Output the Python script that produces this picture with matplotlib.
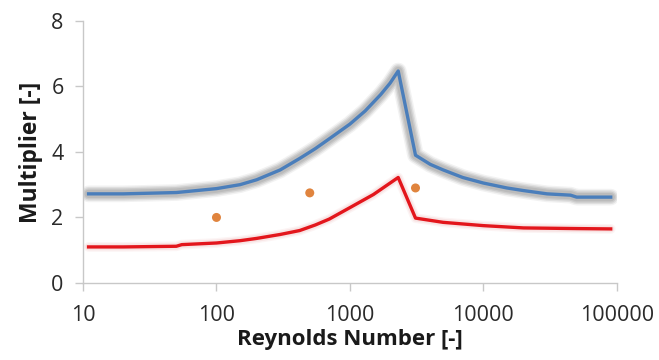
import matplotlib.pyplot as plt

# upper curve (blue), lower curve (red), measured points (orange)
re_upper = [11, 20, 50, 100, 150, 200, 300, 420, 550, 700, 1000, 1300, 1700, 2000, 2300, 3100, 4000, 5000, 7000, 10000, 15000, 20000, 30000, 45000, 50000, 90000]
mult_upper = [2.72, 2.72, 2.76, 2.88, 3.0, 3.15, 3.45, 3.8, 4.1, 4.4, 4.85, 5.25, 5.75, 6.1, 6.47, 3.9, 3.62, 3.45, 3.22, 3.05, 2.9, 2.82, 2.72, 2.68, 2.62, 2.62]

re_lower = [11, 20, 50, 55, 100, 150, 200, 300, 420, 550, 700, 1000, 1500, 2300, 3100, 5000, 10000, 20000, 50000, 90000]
mult_lower = [1.1, 1.1, 1.12, 1.17, 1.22, 1.29, 1.36, 1.48, 1.6, 1.77, 1.95, 2.3, 2.7, 3.22, 1.98, 1.85, 1.75, 1.68, 1.66, 1.65]

re_points = [100, 500, 3100]
mult_points = [2.0, 2.75, 2.9]

plt.rcParams['font.family'] = ['Open Sans', 'DejaVu Sans']
fig = plt.figure(figsize=(6.59, 3.6), dpi=100)
ax = fig.add_axes([0.126, 0.214, 0.81, 0.728])

# soft gray glow under the blue line, faint glow under the red line
for lw, a in [(12, 0.15), (10, 0.25), (8, 0.35), (6, 0.45)]:
    ax.plot(re_upper, mult_upper, color='#a8a8a8', linewidth=lw, alpha=a, solid_capstyle='round', solid_joinstyle='round')
ax.plot(re_upper, mult_upper, color='#4a7ebb', linewidth=2.4)
for lw, a in [(7, 0.12), (5, 0.2)]:
    ax.plot(re_lower, mult_lower, color='#e8a8a8', linewidth=lw, alpha=a, solid_capstyle='round')
ax.plot(re_lower, mult_lower, color='#e3161c', linewidth=2.4)
ax.scatter(re_points, mult_points, color='#e0843e', s=42, zorder=5, edgecolors='none')

ax.set_xscale('log')
ax.set_xlim(10, 100000)
ax.set_ylim(0, 8)
ax.set_xticks([10, 100, 1000, 10000, 100000])
ax.set_xticklabels(['10', '100', '1000', '10000', '100000'])
ax.set_yticks([0, 2, 4, 6, 8])
ax.minorticks_off()

for s in ['top', 'right']:
    ax.spines[s].set_visible(False)
for s in ['left', 'bottom']:
    ax.spines[s].set_color('#c8c8c8')
    ax.spines[s].set_linewidth(1)
ax.tick_params(axis='both', colors='#c8c8c8', labelcolor='#2a2a2a', labelsize=15.5, length=6, width=1)
ax.tick_params(axis='x', pad=10)
ax.tick_params(axis='y', pad=8)

ax.set_xlabel('Reynolds Number [-]', fontsize=16, fontweight='bold', color='#1a1a1a', labelpad=2)
ax.set_ylabel('Multiplier [-]', fontsize=16.5, fontweight='bold', color='#1a1a1a', labelpad=6)

plt.savefig('out.png', dpi=100)
